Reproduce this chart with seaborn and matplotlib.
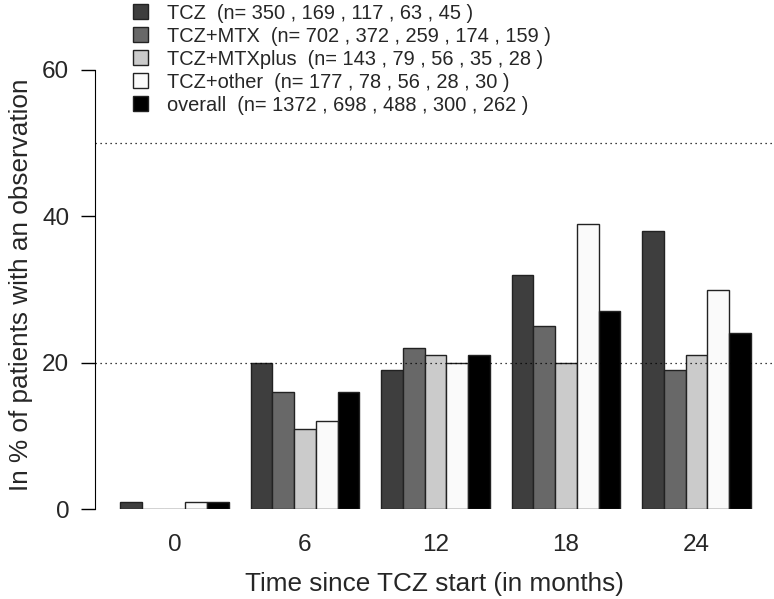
import pandas as pd
import numpy as np
import seaborn as sns
import matplotlib.pyplot as plt

months = ['0', '6', '12', '18', '24']
groups = ['TCZ', 'TCZ+MTX', 'TCZ+MTXplus', 'TCZ+other', 'overall']
tcz = [1, 20, 19, 32, 38]
tcz_mtx = [0, 16, 22, 25, 19]
tcz_mtxplus = [0, 11, 21, 20, 21]
tcz_other = [1, 12, 20, 39, 30]
overall = [1, 16, 21, 27, 24]
n_tcz = [350, 169, 117, 63, 45]
n_mtx = [702, 372, 259, 174, 159]
n_mtxplus = [143, 79, 56, 35, 28]
n_other = [177, 78, 56, 28, 30]
n_overall = [1372, 698, 488, 300, 262]
colors = ['#3e3e3e', '#686868', '#cbcbcb', '#fafafa', '#000000']

vals = [tcz, tcz_mtx, tcz_mtxplus, tcz_other, overall]
ns = [n_tcz, n_mtx, n_mtxplus, n_other, n_overall]

rows = []
for g, v in zip(groups, vals):
    for m, p in zip(months, v):
        rows.append({'month': m, 'group': g, 'pct': p})
df = pd.DataFrame(rows)

sns.set_style('white')
plt.rcParams['font.family'] = ['Liberation Sans', 'DejaVu Sans']

fig = plt.figure(figsize=(7.74, 5.99), dpi=100)
# plot region: spine at x=95, y=0 at 509, y=60 at 70 (pixels)
ax = fig.add_axes([95 / 774, 90 / 599, 679 / 774, 439 / 599])

sns.barplot(data=df, x='month', y='pct', hue='group', order=months,
            hue_order=groups, palette=colors, width=0.831, gap=0,
            edgecolor='#222222', linewidth=1.0, saturation=1, ax=ax,
            legend=False)

for y in [20, 50]:
    ax.axhline(y, color='black', linestyle=(0, (1, 3)), linewidth=0.9, zorder=5)

ax.set_xlim(-0.609, 4.594)
ax.set_ylim(0, 60)
ax.set_yticks([0, 20, 40, 60])
ax.tick_params(axis='y', labelsize=17.5, length=10, width=1, direction='out',
               left=True, pad=8.5, color='black')
ax.tick_params(axis='x', labelsize=17.5, length=0, pad=18)
for s in ['top', 'right', 'bottom']:
    ax.spines[s].set_visible(False)
ax.spines['left'].set_color('black')
ax.spines['left'].set_bounds(0, 60)
ax.set_xlabel('Time since TCZ start (in months)', fontsize=18.8)
ax.set_ylabel('In % of patients with an observation', fontsize=18.8)
ax.xaxis.set_label_coords(0.5, -0.1435)
ax.yaxis.set_label_coords(-0.092, 0.51)

handles = [plt.Rectangle((0, 0), 1, 1, facecolor=c, edgecolor='#222222', linewidth=1) for c in colors]
labels = [f"{g}  (n= {' , '.join(str(x) for x in n)} )" for g, n in zip(groups, ns)]
fig.legend(handles, labels, loc='upper left', bbox_to_anchor=(133 / 774, 0.994),
           frameon=False, fontsize=14.4, handlelength=0.75, handleheight=0.75,
           labelspacing=0.2, handletextpad=0.95, borderaxespad=0, borderpad=0)

fig.savefig('out.png', dpi=100)
